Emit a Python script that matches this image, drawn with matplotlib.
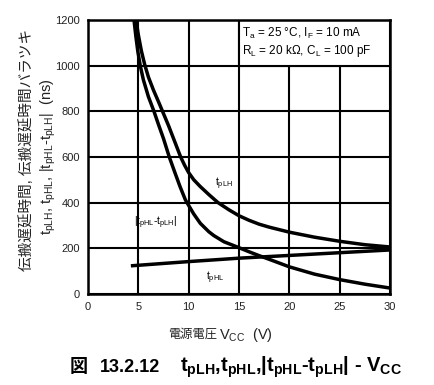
import matplotlib
matplotlib.use("Agg")
import matplotlib.pyplot as plt
from matplotlib.patches import Rectangle

plt.rcParams["font.family"] = ["Liberation Sans", "Noto Sans CJK JP"]
plt.rcParams["mathtext.fontset"] = "custom"
plt.rcParams["mathtext.rm"] = "Liberation Sans"
plt.rcParams["mathtext.it"] = "Liberation Sans"
plt.rcParams["mathtext.bf"] = "Liberation Sans:bold"

# tpLH (ns) vs Vcc (V)
vcc_plh = [4.77, 5.0, 5.3, 5.63, 6.0, 6.5, 7.0, 7.42, 8.0, 8.5, 9.2, 9.6, 10.0, 10.5,
           11.15, 12.0, 12.9, 14.0, 15.0, 16.0, 17.0, 18.0, 20.0, 22.5, 25.0, 27.5, 30.0]
t_plh = [1200, 1135, 1065, 1005, 950, 893, 842, 798, 737, 680, 600, 563, 531, 500,
         470, 435, 400, 368, 342, 322, 305, 292, 270, 248, 230, 215, 205]

# |tpHL - tpLH| (ns)
vcc_diff = [4.57, 4.75, 4.95, 5.2, 5.5, 6.0, 6.55, 7.0, 7.5, 8.07, 8.6, 9.14, 9.67, 10.0, 10.5,
            11.15, 12.0, 12.5, 13.5, 15.0, 16.0, 17.0, 18.0, 20.0, 22.5, 25.0, 27.5, 30.0]
t_diff = [1200, 1130, 1062, 998, 938, 864, 800, 742, 680, 600, 535, 470, 412, 387, 350,
          309, 272, 255, 228, 202, 184, 167, 151, 118, 86, 62, 42, 25]

# tpHL (ns)
vcc_phl = [4.43, 10.0, 15.0, 20.0, 25.0, 30.0]
t_phl = [123, 141, 156, 168, 180, 192]

x_ticks = [0, 5, 10, 15, 20, 25, 30]
y_ticks = [0, 200, 400, 600, 800, 1000, 1200]

fig = plt.figure(figsize=(4.35, 3.85), dpi=100)
ax = fig.add_axes([0.2023, 0.237, 0.6943, 0.711])

ax.set_xlim(0, 30)
ax.set_ylim(0, 1200)
ax.set_xticks(x_ticks)
ax.set_yticks(y_ticks)
ax.tick_params(length=0, labelsize=8, pad=6, colors="#222222")
ax.grid(True, color="black", linewidth=1.5)
ax.set_axisbelow(True)
for sp in ax.spines.values():
    sp.set_linewidth(1.8)

# condition box
ax.add_patch(Rectangle((15, 1000), 15, 200, facecolor="white",
                       edgecolor="black", linewidth=1.5, zorder=2))
ax.text(15.3, 1143, r"T$_a$ = 25 °C, I$_F$ = 10 mA", fontsize=8.5, va="center", zorder=3)
ax.text(15.3, 1062, r"R$_L$ = 20 kΩ, C$_L$ = 100 pF", fontsize=8.5, va="center", zorder=3)

lw = 2.5
ax.plot(vcc_plh, t_plh, color="black", linewidth=lw, zorder=4)
ax.plot(vcc_diff, t_diff, color="black", linewidth=lw, zorder=4)
ax.plot(vcc_phl, t_phl, color="black", linewidth=lw, zorder=4)

ax.text(12.6, 480, r"t$_{pLH}$", fontsize=7.5, va="center", ha="left", zorder=5)
ax.text(4.6, 310, r"|t$_{pHL}$-t$_{pLH}$|", fontsize=7.5, va="center", ha="left", zorder=5)
ax.text(12.6, 68, r"t$_{pHL}$", fontsize=7.5, va="center", ha="center", zorder=5)

# axis labels
fig.text(0.062, 0.61, "伝搬遅延時間, 伝搬遅延時間バラツキ", rotation=90,
         fontsize=10.5, va="center", ha="center", color="#222222")
fig.text(0.112, 0.592, r"t$_{pLH}$, t$_{pHL}$, |t$_{pHL}$-t$_{pLH}$|  (ns)", rotation=90,
         fontsize=10.5, va="center", ha="center", color="#222222")
fig.text(168 / 435, 1 - 335 / 385, "電源電圧", fontsize=8.8,
         va="center", ha="left", color="#222222")
fig.text(219 / 435, 1 - 335 / 385, r"V$_{CC}$  (V)", fontsize=10.5,
         va="center", ha="left", color="#222222")

# caption
fig.text(70 / 435, 1 - 367 / 385, "図", fontsize=13, fontweight="bold",
         va="center", ha="left")
fig.text(100 / 435, 1 - 367 / 385, "13.2.12", fontsize=13, fontweight="bold",
         va="center", ha="left")
fig.text(180 / 435, 1 - 367 / 385,
         r"$\mathbf{t_{pLH}}$,$\mathbf{t_{pHL}}$,|$\mathbf{t_{pHL}}$-$\mathbf{t_{pLH}}$| - $\mathbf{V_{CC}}$",
         fontsize=14.5, fontweight="bold", va="center", ha="left")

fig.savefig("out.png", dpi=100)
